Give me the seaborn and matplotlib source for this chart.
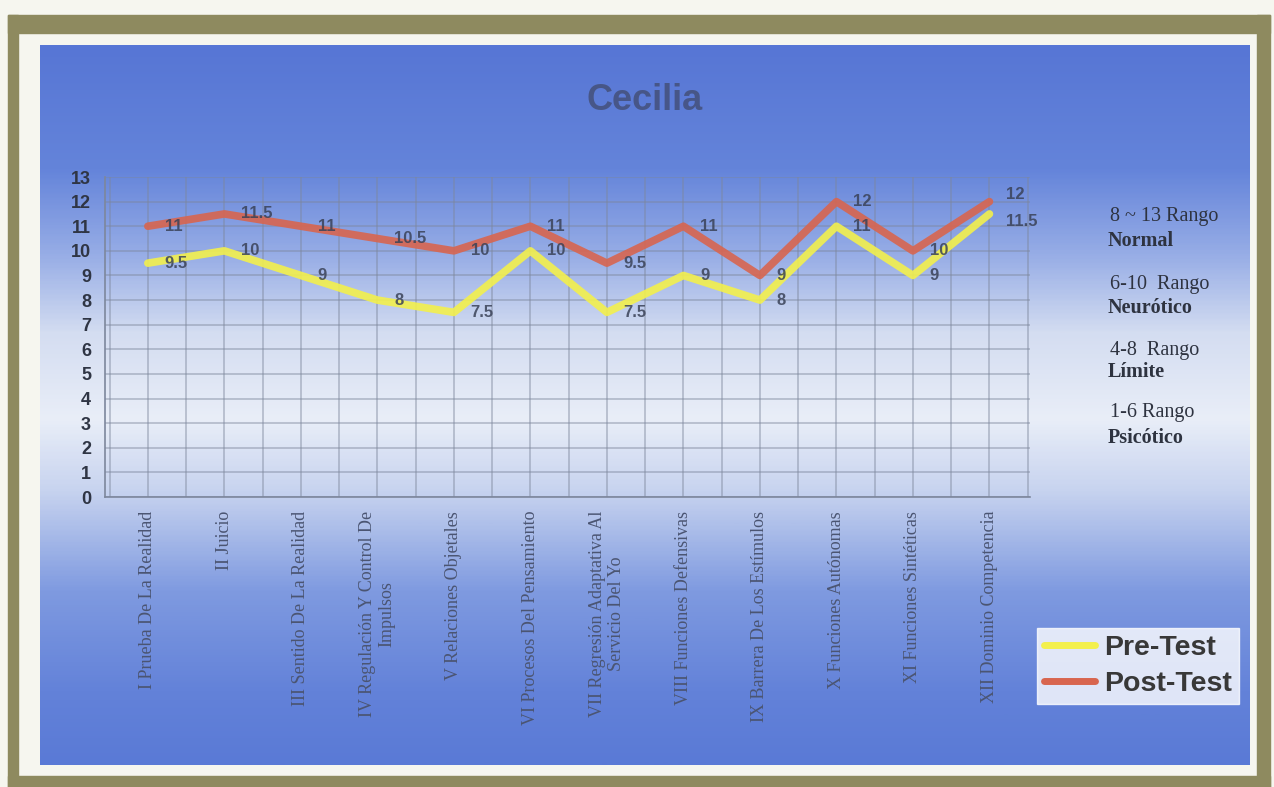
import numpy as np
import pandas as pd
import matplotlib
matplotlib.use("Agg")
import matplotlib.pyplot as plt
import seaborn as sns
from matplotlib.patches import Rectangle
from matplotlib.lines import Line2D
from matplotlib.colors import LinearSegmentedColormap

# ---- data -------------------------------------------------------------
categories = [
    "I Prueba De La Realidad",
    "II Juicio",
    "III Sentido De La Realidad",
    "IV Regulación Y Control De\nImpulsos",
    "V Relaciones Objetales",
    "VI Procesos Del Pensamiento",
    "VII Regresión Adaptativa Al\nServicio Del Yo",
    "VIII Funciones Defensivas",
    "IX Barrera De Los Estímulos",
    "X Funciones Autónomas",
    "XI Funciones Sintéticas",
    "XII Dominio Competencia",
]
pre_test = [9.5, 10, 9, 8, 7.5, 10, 7.5, 9, 8, 11, 9, 11.5]
post_test = [11, 11.5, 11, 10.5, 10, 11, 9.5, 11, 9, 12, 10, 12]
y_ticks = list(range(0, 14))
range_notes = [
    ("8 ~ 13 Rango", "Normal"),
    ("6-10  Rango", "Neurótico"),
    ("4-8  Rango", "Límite"),
    ("1-6 Rango", "Psicótico"),
]
title = "Cecilia"

# ---- styling ----------------------------------------------------------
sns.set_style("white")
plt.rcParams["font.family"] = ["Liberation Sans", "DejaVu Sans"]

W, H = 1274, 787
YELLOW = "#f3f04c"
RED = "#d8654f"
TEXT = "#3a4258"

fig = plt.figure(figsize=(W / 100, H / 100), dpi=100)
fig.patch.set_facecolor("#f6f6ef")


def fx(px):
    return px / W


def fy(py):
    return 1 - py / H


# olive frame around the panel
olive = "#8e8a5f"
for (x0, y0, x1, y1) in [(8, 15, 1270, 33), (8, 15, 18, 787), (1257, 15, 1270, 787), (8, 776, 1270, 787)]:
    fig.add_artist(Rectangle((fx(x0), fy(y1)), fx(x1 - x0), (y1 - y0) / H,
                             transform=fig.transFigure, color=olive, zorder=0))

# blue gradient panel
bg_ax = fig.add_axes([fx(40), fy(765), fx(1210), 720 / H], zorder=0)
stops = [
    (0.00, "#5776d5"),
    (0.17, "#6484da"),
    (0.29, "#97ade6"),
    (0.40, "#d4ddf1"),
    (0.52, "#e9eef8"),
    (0.62, "#c7d3ef"),
    (0.76, "#7f9ae0"),
    (0.90, "#6382d9"),
    (1.00, "#5a7ad6"),
]
cmap = LinearSegmentedColormap.from_list("panel", stops)
grad = np.linspace(0, 1, 400).reshape(-1, 1)
bg_ax.imshow(grad, aspect="auto", cmap=cmap, extent=[0, 1, 1, 0])
bg_ax.set_axis_off()

# ---- main chart -------------------------------------------------------
ax = fig.add_axes([fx(105), fy(497), fx(1030 - 105), (497 - 177) / H], zorder=2)
ax.set_facecolor("none")

df = pd.DataFrame({
    "funcion": categories * 2,
    "puntaje": pre_test + post_test,
    "prueba": ["Pre-Test"] * len(categories) + ["Post-Test"] * len(categories),
})
sns.lineplot(data=df, x="funcion", y="puntaje", hue="prueba",
             hue_order=["Post-Test", "Pre-Test"],
             palette={"Pre-Test": YELLOW, "Post-Test": RED},
             sort=False, linewidth=5.5, alpha=0.9, legend=False, ax=ax)

ax.set_xlim(-0.56, 11.53)
ax.set_ylim(0, 13)
ax.set_xlabel("")
ax.set_ylabel("")

# grid: every integer score, and every half category
ax.set_yticks(y_ticks)
ax.set_yticklabels([str(t) for t in y_ticks], fontsize=13, fontweight="bold", color="#2f3544")
for xv in np.arange(-0.5, 12, 0.5):
    ax.axvline(xv, color="#7d879c", lw=1.1, alpha=0.55, zorder=0)
for yv in y_ticks:
    ax.axhline(yv, color="#7d879c", lw=1.1, alpha=0.55, zorder=0)

ax.set_xticks(range(len(categories)))
ax.set_xticklabels(categories, rotation=90, ha="center", va="top",
                   multialignment="center", fontsize=13,
                   family=["Liberation Serif", "DejaVu Serif"], color="#4b5572")
ax.tick_params(axis="both", length=0, pad=10)
for side in ["top", "right"]:
    ax.spines[side].set_visible(False)
for side in ["left", "bottom"]:
    ax.spines[side].set_color("#7d879c")
    ax.spines[side].set_linewidth(1.2)

# value labels next to each point; nudge apart where the two series meet
for i, (a, b) in enumerate(zip(pre_test, post_test)):
    close = abs(b - a) < 1
    ax.text(i + 0.22, a - (0.3 if close else 0), f"{a:g}", ha="left", va="center",
            fontsize=12, fontweight="bold", color=TEXT, alpha=0.85, zorder=5)
    ax.text(i + 0.22, b + (0.3 if close else 0), f"{b:g}", ha="left", va="center",
            fontsize=12, fontweight="bold", color=TEXT, alpha=0.85, zorder=5)

# title
fig.text(fx(645), fy(101), title, ha="center", va="center", fontsize=26,
         fontweight="bold", color="#44507a", alpha=0.85)

# score ranges on the right
serif = ["Liberation Serif", "DejaVu Serif"]
note_y = [(217, 241), (285, 308), (350, 372), (413, 438)]
for (line1, line2), (y1, y2) in zip(range_notes, note_y):
    fig.text(fx(1110), fy(y1), line1, ha="left", va="center", fontsize=14.5,
             family=serif, color="#2e3340")
    fig.text(fx(1108), fy(y2), line2, ha="left", va="center", fontsize=14.5,
             family=serif, fontweight="bold", color="#2e3340")

# legend
handles = [Line2D([], [], color=YELLOW, lw=5), Line2D([], [], color=RED, lw=5)]
leg = fig.legend(handles, ["Pre-Test", "Post-Test"], loc="upper left",
                 bbox_to_anchor=(fx(1037), fy(628)), frameon=True, fancybox=False,
                 fontsize=20.5, handlelength=1.8, handletextpad=0.3,
                 labelspacing=0.35, borderpad=0.25, borderaxespad=0)
leg.get_frame().set_facecolor("white")
leg.get_frame().set_edgecolor("white")
for t in leg.get_texts():
    t.set_fontweight("bold")
    t.set_color("#383838")

fig.savefig("out.png", dpi=100, facecolor=fig.get_facecolor())
